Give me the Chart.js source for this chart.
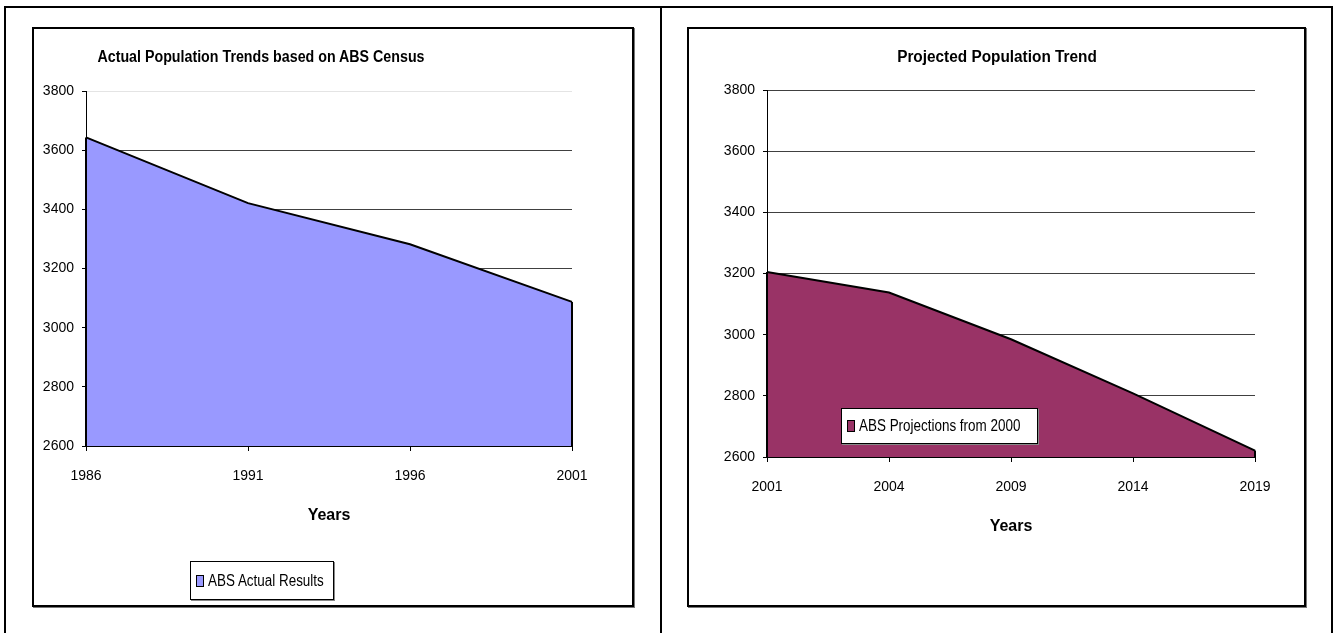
<!DOCTYPE html>
<html lang="en">
<head>
  <meta charset="UTF-8">
  <title>ABS Population Trends</title>
  <script src="https://cdn.jsdelivr.net/npm/chart.js"></script>
  <style>
    body {
      margin: 0;
      width: 1333px;
      height: 633px;
      position: relative;
      background: #fff;
      overflow: hidden;
      font-family: "Liberation Sans", Arial, sans-serif;
    }
    .frame {
      position: absolute;
      left: 4px; top: 6px;
      width: 1325px; height: 640px;
      border-top: 2px solid #000;
      border-left: 2px solid #000;
      border-right: 2px solid #000;
    }
    .divider {
      position: absolute;
      left: 660px; top: 6px;
      width: 2px; height: 640px;
      background: #000;
    }
    .box {
      position: absolute;
      top: 27px;
      height: 576px;
      border: 2px solid #000;
      box-shadow: 1px 1px 0 #777;
    }
    .box canvas { position: absolute; left: 0; top: 0; }
    .title {
      position: absolute;
      width: 400px;
      text-align: center;
      font-weight: bold;
      font-size: 16px;
      line-height: 20px;
      color: #000;
      white-space: nowrap;
      transform-origin: center;
    }
    .legend {
      position: absolute;
      background: #fff;
      border: 1px solid #000;
      box-shadow: 1px 1px 0 #888;
      font-size: 16px;
      color: #000;
      display: flex;
      align-items: center;
      box-sizing: border-box;
      padding-left: 5px;
      white-space: nowrap;
    }
    .legend .txt { display: inline-block; transform: scaleX(0.84); transform-origin: left center; }
    .legend span.sw {
      flex: 0 0 auto;
      display: inline-block;
      width: 6px; height: 10px;
      border: 1px solid #000;
      margin-right: 4px;
    }
  </style>
</head>
<body>

  <div class="frame"></div>
  <div class="divider"></div>

  <!-- Left chart: actual census results -->
  <div class="box" style="left:32px; width:598px;">
    <canvas id="actualChart" width="598" height="576"></canvas>
  </div>
  <div class="title" style="left:61px; top:47px; transform:scaleX(0.89);">Actual Population Trends based on ABS Census</div>
  <div class="legend" style="left:190px; top:561px; width:144px; height:39px;">
    <span class="sw" style="background:#9999FF"></span><span class="txt">ABS Actual Results</span>
  </div>

  <!-- Right chart: projections -->
  <div class="box" style="left:687px; width:615px;">
    <canvas id="projChart" width="615" height="576"></canvas>
  </div>
  <div class="title" style="left:797px; top:47px; transform:scaleX(0.96);">Projected Population Trend</div>
  <div class="legend" style="left:841px; top:408px; width:197px; height:36px;">
    <span class="sw" style="background:#993366"></span><span class="txt">ABS Projections from 2000</span>
  </div>

  <script>
    // data
    const actualYears = ['1986', '1991', '1996', '2001'];
    const actualValues = [3643, 3421, 3282, 3087];
    const projYears = ['2001', '2004', '2009', '2014', '2019'];
    const projValues = [3205, 3138, 2985, 2808, 2621];
    const yTicks = [2600, 2800, 3000, 3200, 3400, 3600, 3800];

    Chart.defaults.font.family = '"Liberation Sans", Arial, sans-serif';
    Chart.defaults.font.size = 14;
    Chart.defaults.color = '#000';

    // Excel-style area outline: close the area with vertical edges at both ends
    const areaEdges = {
      id: 'areaEdges',
      afterDatasetsDraw(chart) {
        const ctx = chart.ctx;
        const bottom = chart.chartArea.bottom;
        chart.data.datasets.forEach((ds, i) => {
          const pts = chart.getDatasetMeta(i).data;
          if (!pts.length) return;
          ctx.save();
          ctx.strokeStyle = '#000';
          ctx.lineWidth = 2;
          [pts[0], pts[pts.length - 1]].forEach(p => {
            ctx.beginPath();
            ctx.moveTo(p.x, p.y);
            ctx.lineTo(p.x, bottom);
            ctx.stroke();
          });
          ctx.restore();
        });
      }
    };

    function makeChart(id, labels, values, label, fillColor, yWidth, pad, topGridColor) {
      return new Chart(document.getElementById(id), {
        type: 'line',
        data: {
          labels,
          datasets: [{
            label,
            data: values,
            fill: 'start',
            backgroundColor: fillColor,
            borderColor: '#000',
            borderWidth: 2,
            pointRadius: 0,
            tension: 0
          }]
        },
        options: {
          responsive: false,
          animation: false,
          devicePixelRatio: 1,
          layout: { padding: pad },
          plugins: {
            legend: { display: false },
            title: { display: false },
            tooltip: { enabled: false }
          },
          scales: {
            x: {
              offset: false,
              grid: { drawOnChartArea: false, tickLength: 5, color: '#000' },
              border: { color: '#000', width: 1 },
              ticks: { padding: 17, maxRotation: 0, autoSkip: false },
              title: {
                display: true, text: 'Years',
                font: { weight: 'bold', size: 16 },
                padding: { top: 0, bottom: 0 }
              },
              afterFit: s => { s.height = 79; }
            },
            y: {
              min: 2600, max: 3800,
              afterBuildTicks: s => { s.ticks = yTicks.map(v => ({ value: v })); },
              grid: {
                color: c => (c.tick && c.tick.value === 3800) ? topGridColor : '#404040',
                tickColor: '#000',
                tickLength: 4
              },
              border: { color: '#000', width: 1 },
              ticks: { padding: 8, callback: v => String(v) },
              afterFit: s => { s.width = yWidth; }
            }
          }
        },
        plugins: [areaEdges]
      });
    }

    makeChart('actualChart', actualYears, actualValues, 'ABS Actual Results', '#9999FF', 52,
      { top: 62, left: 0, right: 60, bottom: 80 }, '#e4e4e4');
    makeChart('projChart', projYears, projValues, 'ABS Projections from 2000', '#993366', 78,
      { top: 61, left: 0, right: 49, bottom: 69 }, '#404040');
  </script>
</body>
</html>
